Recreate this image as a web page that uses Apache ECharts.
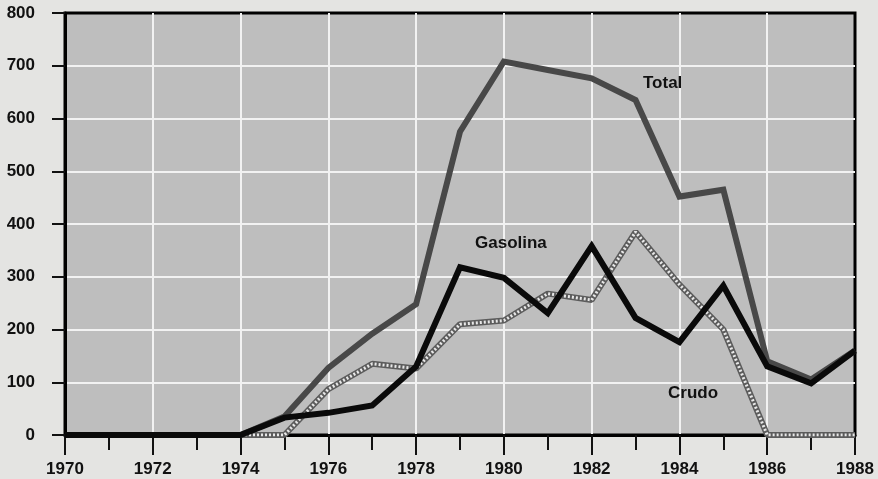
<!DOCTYPE html>
<html>
<head>
<meta charset="utf-8">
<script src="https://cdn.jsdelivr.net/npm/echarts@6/dist/echarts.min.js"></script>
<style>
  html, body { margin: 0; padding: 0; background: #e4e4e2; }
  #main { width: 878px; height: 479px; }
</style>
</head>
<body>
<div id="main"></div>
<script>
var chart = echarts.init(document.getElementById('main'));

var years = [1970,1971,1972,1973,1974,1975,1976,1977,1978,1979,1980,1981,1982,1983,1984,1985,1986,1987,1988];
var total    = [0,0,0,0,0,35,127,192,248,575,708,692,676,635,452,465,140,105,160];
var gasolina = [0,0,0,0,0,33,42,56,130,318,298,231,358,222,176,283,130,98,160];
var crudo    = [0,0,0,0,0,0,87,135,126,210,217,268,256,385,285,200,0,0,0];

function pairs(vals) {
  return years.map(function (y, i) { return [y, vals[i]]; });
}

var font = 'Liberation Sans, Arial, sans-serif';

var option = {
  backgroundColor: '#e4e4e2',
  animation: false,
  grid: {
    left: 65, right: 23, top: 13, bottom: 44,
    show: true,
    backgroundColor: '#bebebe',
    borderColor: '#000',
    borderWidth: 3
  },
  xAxis: {
    type: 'value',
    min: 1970, max: 1988, interval: 2,
    axisLine: { lineStyle: { color: '#000', width: 3 } },
    axisTick: { show: true, length: 20, lineStyle: { color: '#111', width: 2 } },
    minorTick: { show: true, splitNumber: 2, length: 15, lineStyle: { color: '#111', width: 2 } },
    splitLine: { show: true, showMinLine: false, showMaxLine: false, lineStyle: { color: '#f2f2f2', width: 2 } },
    axisLabel: {
      color: '#111', fontSize: 17, fontWeight: 'bold', fontFamily: font,
      margin: 26,
      formatter: function (v) { return String(v); }
    }
  },
  yAxis: {
    type: 'value',
    min: 0, max: 800, interval: 100,
    axisLine: { show: true, lineStyle: { color: '#000', width: 3 } },
    axisTick: { show: true, length: 13, lineStyle: { color: '#111', width: 2 } },
    splitLine: { show: true, showMinLine: false, showMaxLine: false, lineStyle: { color: '#f2f2f2', width: 2 } },
    axisLabel: {
      color: '#111', fontSize: 17, fontWeight: 'bold', fontFamily: font,
      margin: 30
    }
  },
  series: [
    {
      name: 'Total', type: 'line', data: pairs(total),
      symbol: 'none', z: 2,
      lineStyle: { color: '#484848', width: 6, join: 'miter' }
    },
    {
      // Crudo: dark outline ...
      name: 'Crudo', type: 'line', data: pairs(crudo),
      symbol: 'none', z: 3,
      lineStyle: { color: '#5c5c5c', width: 6 }
    },
    {
      // ... with a light dotted core
      name: 'Crudo ', type: 'line', data: pairs(crudo),
      symbol: 'none', z: 3,
      lineStyle: { color: '#e8e8e8', width: 3, type: [2, 2] }
    },
    {
      name: 'Gasolina', type: 'line', data: pairs(gasolina),
      symbol: 'none', z: 4,
      lineStyle: { color: '#0a0a0a', width: 6, join: 'miter' }
    }
  ],
  graphic: [
    { type: 'text', z: 100, left: 643, top: 75, style: { text: 'Total', fill: '#111', font: 'bold 17px ' + font } },
    { type: 'text', z: 100, left: 475, top: 235, style: { text: 'Gasolina', fill: '#111', font: 'bold 17px ' + font } },
    { type: 'text', z: 100, left: 668, top: 385, style: { text: 'Crudo', fill: '#111', font: 'bold 17px ' + font } }
  ]
};

chart.setOption(option);
</script>
</body>
</html>
